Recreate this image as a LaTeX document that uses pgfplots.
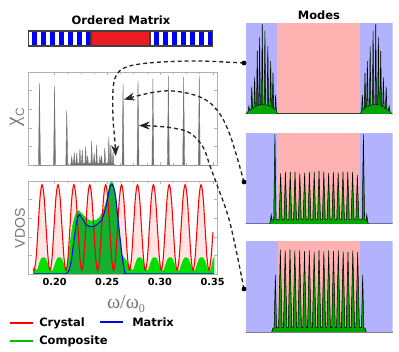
\documentclass[border=0pt]{standalone}
\usepackage{pgfplots}
\pgfplotsset{compat=1.18}
\usepackage{pgfplotstable}
\usepackage{fontspec}
\usetikzlibrary{arrows.meta}
\newfontfamily\dv{DejaVu Sans}
\newfontfamily\lsans{Liberation Sans}
\newfontfamily\lserif{Liberation Serif}
\definecolor{crys}{RGB}{255,0,0}
\definecolor{matx}{RGB}{0,0,255}
\definecolor{compo}{RGB}{0,224,0}
\definecolor{compodark}{RGB}{20,176,50}
\definecolor{pinkfill}{RGB}{255,228,228}
\definecolor{bgblue}{RGB}{178,178,255}
\definecolor{bgpink}{RGB}{255,178,178}
\definecolor{spike}{RGB}{115,115,115}
\definecolor{modegreen}{RGB}{0,165,0}
\definecolor{barred}{RGB}{236,28,36}
\definecolor{labgray}{RGB}{120,120,120}

% crystal VDOS
\pgfplotstableread{
x y
0.1800 0.05
0.1807 0.04
0.1825 0.17
0.1844 0.50
0.1863 0.83
0.1882 0.96
0.1901 0.83
0.1920 0.50
0.1939 0.17
0.1957 0.04
0.1976 0.17
0.1995 0.50
0.2014 0.83
0.2033 0.96
0.2052 0.83
0.2071 0.50
0.2090 0.17
0.2108 0.04
0.2127 0.17
0.2146 0.50
0.2165 0.83
0.2184 0.96
0.2203 0.83
0.2222 0.50
0.2241 0.17
0.2259 0.04
0.2277 0.17
0.2296 0.50
0.2315 0.83
0.2334 0.96
0.2353 0.83
0.2372 0.50
0.2391 0.17
0.2409 0.04
0.2428 0.17
0.2447 0.50
0.2466 0.83
0.2485 0.96
0.2504 0.83
0.2523 0.50
0.2542 0.17
0.2560 0.04
0.2579 0.17
0.2598 0.50
0.2617 0.83
0.2636 0.96
0.2655 0.83
0.2674 0.50
0.2693 0.17
0.2711 0.04
0.2730 0.17
0.2749 0.50
0.2768 0.83
0.2787 0.96
0.2806 0.83
0.2825 0.50
0.2844 0.17
0.2862 0.04
0.2881 0.17
0.2900 0.50
0.2919 0.83
0.2938 0.96
0.2957 0.83
0.2976 0.50
0.2995 0.17
0.3013 0.04
0.3031 0.17
0.3050 0.50
0.3069 0.83
0.3088 0.96
0.3107 0.83
0.3126 0.50
0.3145 0.17
0.3163 0.04
0.3182 0.17
0.3201 0.50
0.3220 0.83
0.3239 0.96
0.3258 0.83
0.3277 0.50
0.3296 0.17
0.3314 0.04
0.3333 0.17
0.3352 0.50
0.3371 0.83
0.3390 0.96
0.3409 0.83
0.3428 0.50
0.3447 0.17
0.3465 0.04
0.3484 0.17
0.3503 0.45
}\crystal

% composite VDOS
\pgfplotstableread{
x y
0.1800 0.06
0.1835 0.04
0.1860 0.12
0.1880 0.17
0.1910 0.17
0.1930 0.12
0.1955 0.04
0.1970 0.03
0.1986 0.04
0.2011 0.12
0.2031 0.17
0.2061 0.17
0.2081 0.12
0.2105 0.06
0.2125 0.10
0.2147 0.31
0.2170 0.50
0.2190 0.60
0.2210 0.66
0.2225 0.68
0.2245 0.66
0.2273 0.63
0.2300 0.60
0.2336 0.57
0.2370 0.57
0.2400 0.58
0.2430 0.61
0.2446 0.64
0.2470 0.70
0.2493 0.78
0.2510 0.88
0.2524 0.96
0.2540 0.99
0.2555 0.96
0.2571 0.89
0.2590 0.70
0.2602 0.53
0.2615 0.38
0.2625 0.28
0.2640 0.20
0.2660 0.17
0.2680 0.14
0.2700 0.10
0.2730 0.05
0.2747 0.04
0.2772 0.12
0.2792 0.17
0.2822 0.17
0.2842 0.12
0.2867 0.04
0.2878 0.03
0.2889 0.04
0.2914 0.12
0.2934 0.17
0.2964 0.17
0.2984 0.12
0.3009 0.04
0.3023 0.03
0.3037 0.04
0.3062 0.12
0.3082 0.17
0.3112 0.17
0.3132 0.12
0.3157 0.04
0.3172 0.03
0.3188 0.04
0.3213 0.12
0.3233 0.17
0.3263 0.17
0.3283 0.12
0.3308 0.04
0.3322 0.03
0.3335 0.04
0.3360 0.12
0.3380 0.17
0.3410 0.17
0.3430 0.12
0.3455 0.04
0.3470 0.03
0.3485 0.05
0.3500 0.13
0.3512 0.17
}\composite

% matrix VDOS
\pgfplotstableread{
x y
0.1800 0.00
0.2080 0.00
0.2100 0.00
0.2120 0.01
0.2140 0.05
0.2160 0.15
0.2178 0.31
0.2195 0.45
0.2210 0.57
0.2235 0.64
0.2255 0.61
0.2273 0.58
0.2300 0.53
0.2336 0.51
0.2370 0.51
0.2400 0.53
0.2430 0.56
0.2446 0.58
0.2470 0.65
0.2493 0.75
0.2515 0.88
0.2531 0.95
0.2550 0.96
0.2565 0.91
0.2581 0.82
0.2597 0.65
0.2612 0.49
0.2628 0.32
0.2644 0.17
0.2656 0.08
0.2666 0.03
0.2680 0.00
0.2700 0.00
0.3512 0.00
}\matrixv

% chi_C spikes
\pgfplotstableread{
x y
0.1800 0
0.1848 0
0.1857 0.88
0.1866 0
0.1991 0
0.2000 0.85
0.2009 0
0.2107 0
0.2116 0.585
0.2125 0
0.2150 0
0.2156 0.02
0.2163 0.092
0.2170 0.02
0.2180 0.02
0.2187 0.135
0.2194 0.02
0.2203 0.02
0.2210 0.129
0.2217 0.02
0.2234 0.02
0.2241 0.175
0.2248 0.02
0.2256 0.02
0.2263 0.164
0.2270 0.02
0.2288 0.02
0.2295 0.200
0.2302 0.02
0.2307 0.02
0.2314 0.103
0.2321 0.02
0.2345 0.02
0.2352 0.260
0.2359 0.02
0.2369 0.02
0.2376 0.129
0.2383 0.02
0.2392 0.02
0.2399 0.218
0.2406 0.02
0.2423 0.02
0.2430 0.092
0.2437 0.02
0.2439 0.02
0.2446 0.103
0.2453 0.02
0.2470 0.02
0.2477 0.189
0.2484 0.02
0.2508 0.02
0.2515 0.307
0.2522 0.02
0.2527 0.02
0.2534 0.218
0.2541 0.02
0.2548 0.02
0.2555 0.146
0.2562 0.02
0.2570 0
0.2641 0
0.2650 0.865
0.2659 0
0.2783 0
0.2792 0.907
0.2801 0
0.2924 0
0.2933 0.928
0.2942 0
0.3071 0
0.3080 0.954
0.3089 0
0.3216 0
0.3225 0.946
0.3234 0
0.3364 0
0.3373 0.954
0.3382 0
0.3510 0
}\chic

% mode 1
\pgfplotstableread{
x y
0 0
1.0 0.01
1.8 0.03
2.3 0.085
2.8 0.04
3.8 0.05
4.3 0.30
4.8 0.06
5.7 0.07
6.2 0.40
6.7 0.08
7.5 0.09
8.0 0.69
8.5 0.095
9.1 0.10
9.6 0.84
10.1 0.10
10.9 0.10
11.4 0.98
11.9 0.10
12.7 0.10
13.2 0.91
13.7 0.10
14.7 0.095
15.2 0.74
15.7 0.09
16.6 0.085
17.1 0.58
17.6 0.08
18.2 0.07
18.7 0.45
19.2 0.06
20.0 0.05
20.5 0.21
21.0 0.03
21.8 0.005
78.2 0.005
79.0 0.03
79.5 0.21
80.0 0.05
80.8 0.06
81.3 0.45
81.8 0.07
82.4 0.08
82.9 0.58
83.4 0.085
84.3 0.09
84.8 0.74
85.3 0.095
86.3 0.10
86.8 0.91
87.3 0.10
88.1 0.10
88.6 0.98
89.1 0.10
89.9 0.10
90.4 0.84
90.9 0.10
91.5 0.095
92.0 0.69
92.5 0.09
93.3 0.08
93.8 0.40
94.3 0.07
95.2 0.06
95.7 0.30
96.2 0.05
97.2 0.04
97.7 0.085
98.2 0.03
99.0 0.01
100 0
}\modeA

% mode 2
\pgfplotstableread{
x y
0 0
16.5 0
17.0 0.04
17.5 0.10
18.0 0.04
19.2 0.05
20.0 0.98
20.8 0.05
22.9 0.05
23.9 0.553
24.9 0.05
26.16 0.05
27.16 0.570
28.16 0.05
29.43 0.05
30.43 0.570
31.43 0.05
32.69 0.05
33.69 0.570
34.69 0.05
35.95 0.05
36.95 0.553
37.95 0.05
39.21 0.05
40.21 0.560
41.21 0.05
42.48 0.05
43.48 0.570
44.48 0.05
45.74 0.05
46.74 0.570
47.74 0.05
49.00 0.05
50.00 0.578
51.00 0.05
52.26 0.05
53.26 0.570
54.26 0.05
55.53 0.05
56.53 0.560
57.53 0.05
58.79 0.05
59.79 0.570
60.79 0.05
62.05 0.05
63.05 0.565
64.05 0.05
65.31 0.05
66.31 0.570
67.31 0.05
68.58 0.05
69.58 0.570
70.58 0.05
71.84 0.05
72.84 0.570
73.84 0.05
75.10 0.05
76.10 0.534
77.10 0.05
79.4 0.05
80.2 0.98
81.0 0.05
82.0 0.04
82.5 0.10
83.0 0.04
83.5 0
100 0
}\modeB

% mode 3
\pgfplotstableread{
x y
0 0
17.8 0
18.5 0.04
19.5 0.05
20.3 0.63
21.1 0.05
22.5 0.05
23.70 0.906
24.90 0.05
25.79 0.05
26.99 0.898
28.19 0.05
29.08 0.05
30.28 0.906
31.48 0.05
32.36 0.05
33.56 0.898
34.76 0.05
35.65 0.05
36.85 0.898
38.05 0.05
38.94 0.05
40.14 0.887
41.34 0.05
42.23 0.05
43.43 0.898
44.63 0.05
45.51 0.05
46.71 0.880
47.91 0.05
48.80 0.05
50.00 0.898
51.20 0.05
52.09 0.05
53.29 0.887
54.49 0.05
55.38 0.05
56.58 0.898
57.78 0.05
58.66 0.05
59.86 0.887
61.06 0.05
61.95 0.05
63.15 0.898
64.35 0.05
65.24 0.05
66.44 0.887
67.64 0.05
68.53 0.05
69.73 0.880
70.93 0.05
71.81 0.05
73.01 0.898
74.21 0.05
75.10 0.05
76.30 0.880
77.50 0.05
78.9 0.05
79.7 0.63
80.5 0.05
81.5 0.04
82.2 0
100 0
}\modeC

\pgfplotsset{
  omegaaxis/.style={
    scale only axis, anchor=south west,
    width=141.75pt,
    xmin=0.1753, xmax=0.3546, ymin=0, ymax=1,
    xtick={0.20,0.25,0.30,0.35},
    minor x tick num=3,
    ytick={0.2,0.4,0.6,0.8}, yticklabels={},
    tick align=inside,
    major tick length=2.5pt, minor tick length=1.5pt,
    axis line style={gray!60}, tick style={gray!60},
  },
  modepanel/.style={
    scale only axis, anchor=south west,
    width=110.25pt, height=68.5pt,
    xmin=0, xmax=100, ymin=0, ymax=1,
    axis line style={draw=none}, xtick=\empty, ytick=\empty,
  },
}

\begin{document}
\begin{tikzpicture}[x=0.75pt,y=0.75pt]
\path (0,0) rectangle (399,352);

% titles
\node[font=\dv\bfseries\fontsize{8.6}{10}\selectfont] at (121,332) {Ordered Matrix};
\node[font=\dv\bfseries\fontsize{8.6}{10}\selectfont] at (319,337) {Modes};

% schematic of the ordered matrix
\fill[white] (28.3,306) rectangle (212.7,321);
\foreach \k in {0,...,6} {
  \fill[matx] ({32.1+9*\k},306) rectangle ({37.3+9*\k},321);
  \fill[matx] ({153.8+9*\k},306) rectangle ({159.0+9*\k},321);
}
\fill[barred] (91,306) rectangle (150,321);
\draw[black!75, line width=0.8] (91,306) -- (91,321) (150,306) -- (150,321);
\draw[black!75, line width=0.8] (28.3,306) rectangle (212.7,321);

% chi_C
\begin{axis}[omegaaxis, at={(21.375pt,140.025pt)}, height=70pt, xticklabels={}]
\addplot[fill=spike, draw=spike, line width=0.3pt] table {\chic};
\end{axis}

% VDOS
\begin{axis}[omegaaxis, at={(21.375pt,58.5pt)}, height=69.75pt,
  xticklabels={0.20,0.25,0.30,0.35},
  xticklabel style={font=\dv\bfseries\fontsize{7.3}{8}\selectfont},
]
\addplot[draw=none, fill=pinkfill, smooth, tension=0.55] table {\crystal} \closedcycle;
\addplot[compo, fill=compo, line width=0.6pt, smooth, tension=0.5] table {\composite} \closedcycle;
\addplot[draw=none, fill=compodark, smooth, tension=0.5] table {\matrixv} \closedcycle;
\addplot[crys, line width=0.8pt, smooth, tension=0.55] table {\crystal};
\addplot[matx, line width=0.8pt, smooth, tension=0.5] table {\matrixv};
\end{axis}

% axis labels
\node[font=\lsans\fontsize{10.6}{12}\selectfont, text=labgray, rotate=90] at (20,124) {VDOS};
\node[text=labgray, rotate=90] at (17,235) {\lserif\fontsize{16}{18}\selectfont χ\raisebox{-0.45ex}{\lsans\fontsize{9}{10}\selectfont C}};
\node[text=labgray] at (126,48) {\lserif\fontsize{15}{17}\selectfont ω/ω\raisebox{-0.45ex}{\fontsize{9}{10}\selectfont 0}};

% legend
\draw[crys, line width=2.2pt] (10,29) -- (33,29);
\node[anchor=west, inner sep=0, font=\dv\bfseries\fontsize{8.6}{10}\selectfont] at (39,29) {Crystal};
\draw[matx, line width=2.2pt] (100,30) -- (123,30);
\node[anchor=west, inner sep=0, font=\dv\bfseries\fontsize{8.6}{10}\selectfont] at (132,30) {Matrix};
\draw[compo!85!black, line width=2.2pt] (10,11) -- (33,11);
\node[anchor=west, inner sep=0, font=\dv\bfseries\fontsize{8.6}{10}\selectfont] at (39,11) {Composite};

% mode panels
\begin{axis}[modepanel, at={(184.125pt,178.5pt)}]
\addplot[fill=bgblue, draw=none] coordinates {(0,0)(0,1)(100,1)(100,0)};
\addplot[fill=bgpink, draw=none] coordinates {(21.6,0)(21.6,1)(78,1)(78,0)};
\addplot[fill=modegreen, draw=black, line width=0.4pt] table {\modeA};
\addplot[gray, line width=0.6pt] coordinates {(0,0)(100,0)};
\end{axis}
\begin{axis}[modepanel, at={(184.125pt,96pt)}]
\addplot[fill=bgblue, draw=none] coordinates {(0,0)(0,1)(100,1)(100,0)};
\addplot[fill=bgpink, draw=none] coordinates {(21.2,0)(21.2,1)(77.8,1)(77.8,0)};
\addplot[fill=modegreen, draw=black, line width=0.4pt] table {\modeB};
\addplot[gray, line width=0.6pt] coordinates {(0,0)(100,0)};
\end{axis}
\begin{axis}[modepanel, at={(184.125pt,14.775pt)}]
\addplot[fill=bgblue, draw=none] coordinates {(0,0)(0,1)(100,1)(100,0)};
\addplot[fill=bgpink, draw=none] coordinates {(22,0)(22,1)(77.6,1)(77.6,0)};
\addplot[fill=modegreen, draw=black, line width=0.4pt] table {\modeC};
\addplot[gray, line width=0.6pt] coordinates {(0,0)(100,0)};
\end{axis}

% dashed connectors from modes to chi_C peaks
\begin{scope}[black!85, line width=1pt, dash pattern=on 3pt off 2.2pt]
\draw[-{Stealth[length=8pt,width=6pt,inset=2.5pt]}] plot[smooth, tension=0.6] coordinates {
  (244,289) (230,289.7) (200,291) (167,290.3) (140,288) (124,284) (116,276) (113,262) (113,234) (114.8,212) (115.7,196)};
\draw[-{Stealth[length=8pt,width=6pt,inset=2.5pt]}] plot[smooth, tension=0.6] coordinates {
  (244,170) (230,217) (217,242) (200,255) (173,261) (150,259) (124,252.5)};
\draw[-{Stealth[length=8pt,width=6pt,inset=2.5pt]}] plot[smooth, tension=0.6] coordinates {
  (244,63) (230,129) (217,167) (210,186) (203,205) (190,219) (173,224) (153,226) (139,226.5)};
\end{scope}
\fill (244,289) circle (2.4);
\fill (244,170) circle (2.4);
\fill (244,63) circle (2.4);
\end{tikzpicture}
\end{document}
